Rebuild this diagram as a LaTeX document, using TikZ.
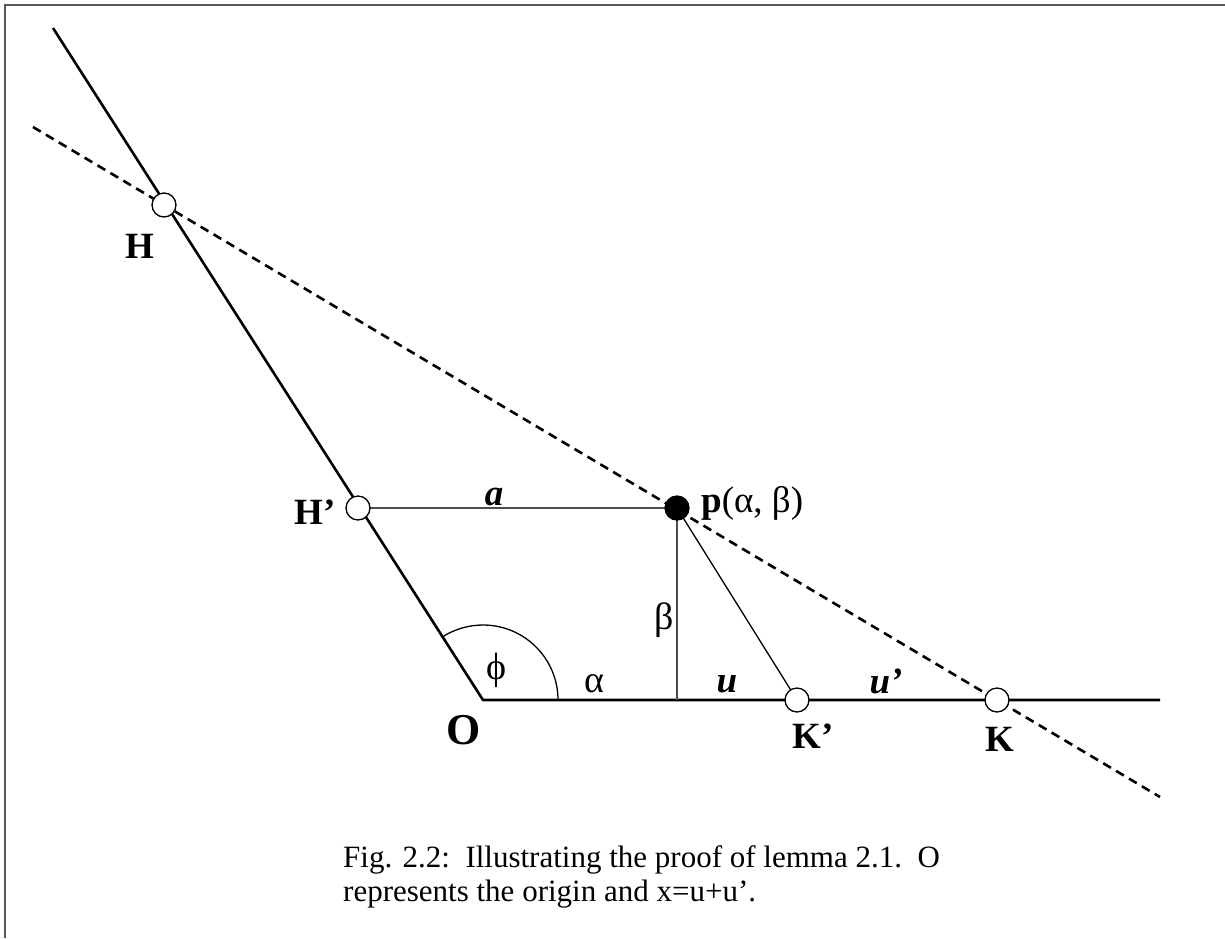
\documentclass[tikz,border=0pt]{standalone}
\usepackage{fontspec}
\setmainfont{Liberation Serif}
\begin{document}
\begin{tikzpicture}[x=1pt,y=-1pt,
  thick line/.style={line width=2.6pt},
  thin line/.style={line width=1.3pt},
  grey line/.style={line width=1.5pt,color=black!70},
  dashline/.style={line width=2.6pt,dash pattern=on 9pt off 6pt},
  opendot/.style={circle,draw,fill=white,line width=1.3pt,minimum size=24pt,inner sep=0pt},
  fulldot/.style={circle,draw,fill=black,line width=1.3pt,minimum size=24pt,inner sep=0pt},
  lab/.style={font=\fontsize{37}{44}\selectfont\bfseries,inner sep=0pt},
  ilab/.style={font=\fontsize{37}{44}\selectfont\bfseries\itshape,inner sep=0pt},
  glab/.style={font=\fontsize{38}{44}\selectfont,inner sep=0pt},
  captext/.style={font=\fontsize{31}{37}\selectfont,inner sep=0pt,anchor=base west}]
\useasboundingbox (0,0) rectangle (1225,938);
\draw[line width=2pt,color=black!65] (5,938) -- (5,5) -- (1225,5);
% points
\coordinate (O) at (483,700);
\coordinate (top) at (53,28);
\coordinate (axisend) at (1160,700);
\coordinate (dA) at (33,127);
\coordinate (dB) at (1160,797);
\coordinate (foot) at (677,700);
\coordinate (cH) at (164,205);
\coordinate (cHp) at (358,508);
\coordinate (cp) at (677,508);
\coordinate (cKp) at (797,700);
\coordinate (cK) at (997,700);
% lines
\draw[dashline] (dA) -- (dB);
\draw[thick line] (top) -- (O) -- (axisend);
\draw[grey line] (cHp) -- (cp);
\draw[grey line] (cp) -- (foot);
\draw[thin line] (cp) -- (cKp);
\draw[thin line] (558,700) arc[start angle=0,end angle=-122.8,radius=75];
% dots
\node[opendot] (H) at (cH) {};
\node[opendot] (Hp) at (cHp) {};
\node[fulldot] (p) at (cp) {};
\node[opendot] (Kp) at (cKp) {};
\node[opendot] (K) at (cK) {};
% labels
\node[lab] (lH) at (140,246) {H};
\node[lab] (lHp) at (315,512) {H’};
\node[ilab] (la) at (494,497) {a};
\node[lab,anchor=west] (lp) at (701,503) {p\normalfont(α, β)};
\node[glab] (lbeta) at (664,620) {β};
\node[glab] (lphi) at (496,670) {ϕ};
\node[glab] (lalpha) at (594,684) {α};
\node[ilab] (lu) at (727,684) {u};
\node[ilab] (lup) at (886,681) {u’};
\node[lab,font=\fontsize{44}{52}\selectfont\bfseries] (lO) at (464,730) {O};
\node[lab] (lKp) at (813,736) {K’};
\node[lab] (lK) at (1000,739) {K};
\node[captext] (c1) at (343,867) {Fig. 2.2:\ \ Illustrating the proof of lemma 2.1.\ \ O};
\node[captext] (c2) at (343,901) {represents the origin and x=u+u’.};
\end{tikzpicture}
\end{document}
